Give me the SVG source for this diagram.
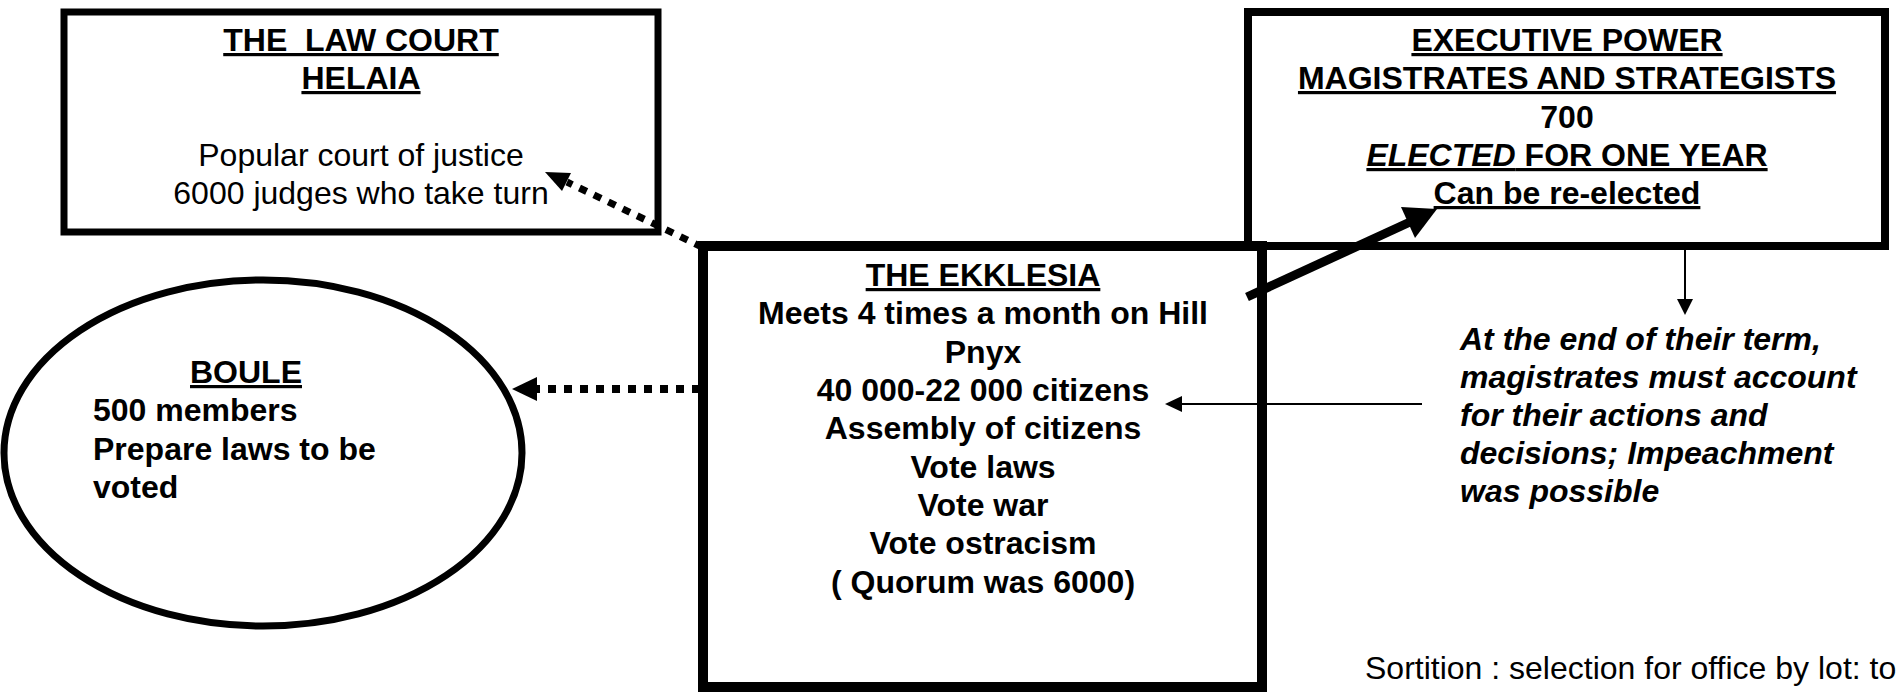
<svg xmlns="http://www.w3.org/2000/svg" width="1897" height="693" viewBox="0 0 1897 693">
<style>
text{font-family:"Liberation Sans",Arial,sans-serif;font-size:32px;fill:#000}
.b{font-weight:bold}
.u{text-decoration:underline;text-decoration-thickness:3px}
.c{text-anchor:middle}
.box{fill:#fff;stroke:#000}
.thin{stroke:#000;stroke-width:2;fill:none}
.dot{stroke:#000;fill:none;stroke-dasharray:8 8}
</style>
<rect width="1897" height="693" fill="#fff"/>
<g id="lawcourt">
<rect class="box" x="64" y="12" width="594" height="220" stroke-width="7"/>
<text class="b u c" x="361" y="51" xml:space="preserve">THE  LAW COURT</text>
<text class="b u c" x="361" y="89">HELAIA</text>
<text class="c" x="361" y="166">Popular court of justice</text>
<text class="c" x="361" y="204">6000 judges who take turn</text>
</g>
<g id="executive">
<rect class="box" x="1248" y="12" width="637" height="234" stroke-width="8"/>
<text class="b u c" x="1567" y="51">EXECUTIVE POWER</text>
<text class="b u c" x="1567" y="89">MAGISTRATES AND STRATEGISTS</text>
<text class="b c" x="1567" y="128">700</text>
<text class="b u c" x="1567" y="166"><tspan font-style="italic">ELECTED</tspan> FOR ONE YEAR</text>
<text class="b u c" x="1567" y="204">Can be re-elected</text>
</g>
<g id="ekklesia">
<rect class="box" x="703" y="246" width="559" height="441" stroke-width="10"/>
<text class="b u c" x="983" y="286">THE EKKLESIA</text>
<text class="b c" x="983" y="324">Meets 4 times a month on Hill</text>
<text class="b c" x="983" y="363">Pnyx</text>
<text class="b c" x="983" y="401">40 000-22 000 citizens</text>
<text class="b c" x="983" y="439">Assembly of citizens</text>
<text class="b c" x="983" y="478">Vote laws</text>
<text class="b c" x="983" y="516">Vote war</text>
<text class="b c" x="983" y="554">Vote ostracism</text>
<text class="b c" x="983" y="593">( Quorum was 6000)</text>
</g>
<g id="boule">
<ellipse class="box" cx="263" cy="453" rx="259" ry="173" stroke-width="7"/>
<text class="b u c" x="246" y="383">BOULE</text>
<text class="b" x="93" y="421">500 members</text>
<text class="b" x="93" y="460">Prepare laws to be</text>
<text class="b" x="93" y="498">voted</text>
</g>
<g id="accountability">
<text class="b" font-style="italic" x="1460" y="350">At the end of their term,</text>
<text class="b" font-style="italic" x="1460" y="388">magistrates must account</text>
<text class="b" font-style="italic" x="1460" y="426">for their actions and</text>
<text class="b" font-style="italic" x="1460" y="464">decisions; Impeachment</text>
<text class="b" font-style="italic" x="1460" y="502">was possible</text>
</g>
<g id="sortition">
<text x="1365" y="679">Sortition : selection for office by lot: to</text>
</g>
<g id="connectors">
<line class="dot" x1="702" y1="247" x2="567" y2="182" stroke-width="7"/>
<polygon points="545,172 571,173 562,191"/>
<line class="dot" x1="700" y1="389" x2="537" y2="389" stroke-width="8"/>
<polygon points="512,389 537,377 537,401"/>
<line x1="1247" y1="297" x2="1410" y2="222" stroke="#000" stroke-width="9"/>
<polygon points="1437,209 1401,207 1415,238"/>
<line class="thin" x1="1685" y1="250" x2="1685" y2="300"/>
<polygon points="1685,315 1677,299 1693,299"/>
<line class="thin" x1="1422" y1="404" x2="1180" y2="404"/>
<polygon points="1165,404 1182,396 1182,412"/>
</g>
</svg>
